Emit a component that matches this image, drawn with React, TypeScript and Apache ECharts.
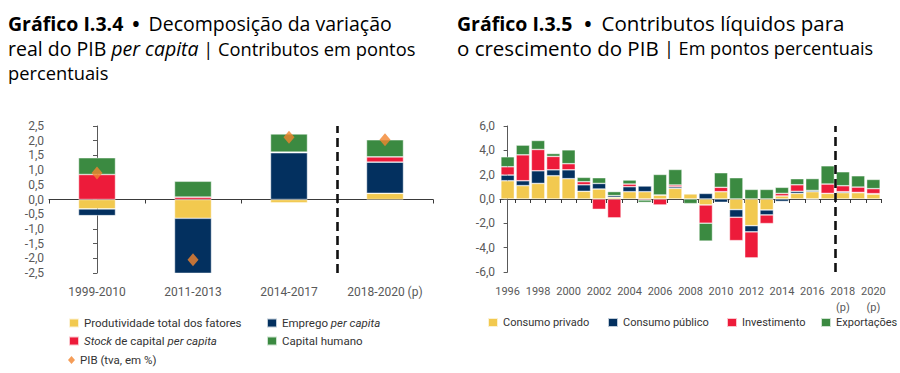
import React, { useEffect, useRef } from 'react';
import * as echarts from 'echarts';

// ---------- Gráfico I.3.4 ----------
const periods = ['1999-2010', '2011-2013', '2014-2017', '2018-2020 (p)'];
const ptf = [-0.32, -0.64, -0.11, 0.21];
const empregoPC = [-0.23, -1.93, 1.59, 1.06];
const stockCapitalPC = [0.85, 0.08, 0.02, 0.18];
const capitalHumano = [0.57, 0.54, 0.62, 0.58];
const pibTva = [0.9, -2.05, 2.12, 2.03];
const leftDividerAt = 2.5; // between 2014-2017 and 2018-2020 (p)

// ---------- Gráfico I.3.5 ----------
const years = ['1996', '1997', '1998', '1999', '2000', '2001', '2002', '2003', '2004', '2005', '2006', '2007', '2008', '2009', '2010', '2011', '2012', '2013', '2014', '2015', '2016', '2017', '2018', '2019', '2020'];
const projectedYears = ['2018', '2019', '2020'];
const consumoPrivado = [1.5, 1.1, 1.28, 1.91, 1.67, 0.63, 0.82, 0.14, 0.6, 0.6, 0.33, 0.87, 0.42, -0.49, 0.6, -0.87, -2.19, -0.9, 0.25, 0.46, 0.6, 0.46, 0.52, 0.52, 0.41];
const consumoPublico = [0.47, 0.4, 1.04, 0.49, 0.73, 0.54, 0.46, 0.14, 0.41, 0.47, 0, 0.13, 0.04, 0.46, -0.27, -0.63, -0.51, -0.41, -0.2, 0.17, 0.1, 0, 0.08, 0.02, 0.03];
const investimento = [0.68, 2.13, 1.75, 1.1, 0.5, 0.25, -0.85, -1.55, 0.22, -0.08, -0.49, 0.15, 0, -1.5, 0.36, -1.92, -2.14, -0.71, 0.21, 0.54, -0.05, 0.77, 0.49, 0.44, 0.41];
const exportacoes = [0.82, 0.8, 0.74, 0.24, 1.14, 0.36, 0.47, 0.33, 0.33, -0.2, 1.69, 1.28, -0.38, -1.47, 1.2, 1.75, 0.79, 0.79, 0.5, 0.5, 0.98, 1.5, 1.15, 0.93, 0.76];
const rightDividerAt = 21.5; // between 2017 and 2018

const YELLOW = '#f2c94f';
const NAVY = '#03305f';
const RED = '#ed1b3a';
const GREEN = '#3b8a41';
const ORANGE = '#f2842e';
const AXIS = '#595959';
const TITLE = '#1d3b59';
const NARROW = "Roboto, 'Liberation Sans', sans-serif";
const OPEN = "'Open Sans', 'Noto Sans', sans-serif";

const fmt = (v: number) => v.toFixed(1).replace('.', ',');

const barStyle = (color: string) => ({
  color,
  borderColor: 'rgba(255,255,255,0.75)',
  borderWidth: 0.6,
});

const legendBase = (name: string, left: number, top: number, fs = 11.5, icon = 'rect', w = 10, h = 9) => ({
  data: [name],
  left,
  top,
  icon,
  itemWidth: w,
  itemHeight: h,
  itemGap: 0,
  padding: 0,
  selectedMode: false,
  textStyle: {
    color: '#333',
    fontSize: fs,
    fontFamily: NARROW,
    rich: {
      i: { fontStyle: 'italic', fontSize: fs, fontFamily: NARROW, color: '#333' },
      n: { fontSize: fs, fontFamily: NARROW, color: '#333' },
    },
  },
});

const titleRich = {
  b: { fontFamily: OPEN, fontSize: 19.5, fontWeight: 'bold', color: TITLE },
  d: { fontFamily: OPEN, fontSize: 19.5, fontWeight: 'bold', color: TITLE, padding: [0, 9, 0, 9] },
  d2: { fontFamily: OPEN, fontSize: 19.5, fontWeight: 'bold', color: TITLE, padding: [0, 10, 0, 12] },
  r: { fontFamily: OPEN, fontSize: 19.5, color: TITLE },
  r2: { fontFamily: OPEN, fontSize: 20.5, color: TITLE },
  ri: { fontFamily: OPEN, fontSize: 19.5, fontStyle: 'italic', color: TITLE },
  s: { fontFamily: OPEN, fontSize: 18.3, color: TITLE },
  s2: { fontFamily: OPEN, fontSize: 18.1, color: TITLE },
};

export default function App() {
  const ref = useRef<HTMLDivElement>(null);
  useEffect(() => {
    document.body.style.margin = '0';
    const chart = echarts.init(ref.current!, null, { renderer: 'svg' });

    const option: any = {
      animation: false,
      backgroundColor: '#ffffff',
      graphic: [
        { type: 'text', x: 8, y: 23, style: { text: '{b|Gráfico I.3.4}{d|•}{r|Decomposição da variação}', rich: titleRich, verticalAlign: 'middle' } },
        { type: 'text', x: 8, y: 48, style: { text: '{r|real do PIB }{ri|per capita}{s| | Contributos em pontos}', rich: titleRich, verticalAlign: 'middle' } },
        { type: 'text', x: 8, y: 72, style: { text: '{s|percentuais}', rich: titleRich, verticalAlign: 'middle' } },
        { type: 'text', x: 457, y: 23, style: { text: '{b|Gráfico I.3.5}{d2|•}{r2|Contributos líquidos para}', rich: titleRich, verticalAlign: 'middle' } },
        { type: 'text', x: 457, y: 48, style: { text: '{r2|o crescimento do PIB }{s2|| Em pontos percentuais}', rich: titleRich, verticalAlign: 'middle' } },
      ],
      legend: [
        legendBase('Produtividade total dos fatores', 68, 317),
        { ...legendBase('Emprego per capita', 266, 317), formatter: () => '{n|Emprego }{i|per capita}' },
        { ...legendBase('Stock de capital per capita', 68, 335), formatter: () => '{i|Stock}{n| de capital }{i|per capita}' },
        legendBase('Capital humano', 266, 335),
        legendBase('PIB (tva, em %)', 68, 354, 11.5, 'diamond', 7, 8),
        legendBase('Consumo privado', 487, 317, 11),
        legendBase('Consumo público', 607, 317, 11),
        legendBase('Investimento', 726, 317, 11),
        legendBase('Exportações', 820, 317, 11),
      ],
      grid: [
        { left: 49, top: 126, width: 384, height: 147 },
        { left: 500, top: 126, width: 381, height: 146 },
      ],
      xAxis: [
        {
          gridIndex: 0, type: 'category', data: periods, position: 'bottom',
          axisLine: { show: false, onZero: false }, axisTick: { show: false },
          axisLabel: { color: AXIS, fontSize: 12, fontFamily: NARROW, margin: 13, interval: 0 },
        },
        {
          gridIndex: 0, type: 'category', data: periods, position: 'top',
          axisLine: { show: true, onZero: true, lineStyle: { color: '#3a3a3a', width: 1 } },
          axisTick: { show: true, inside: true, length: 4, interval: 0, lineStyle: { color: '#3a3a3a' } },
          axisLabel: { show: false },
        },
        {
          gridIndex: 1, type: 'category', data: years, position: 'bottom',
          axisLine: { show: false, onZero: false }, axisTick: { show: false },
          axisLabel: {
            color: AXIS, fontSize: 11, fontFamily: NARROW, margin: 11, interval: 1, lineHeight: 16,
            formatter: (v: string) => (projectedYears.includes(v) ? v + '\n(p)' : v),
          },
        },
        {
          gridIndex: 1, type: 'category', data: years, position: 'top',
          axisLine: { show: true, onZero: true, lineStyle: { color: '#3a3a3a', width: 1 } },
          axisTick: { show: true, inside: true, length: 4, interval: 0, lineStyle: { color: '#3a3a3a' } },
          axisLabel: { show: false },
        },
        { gridIndex: 0, type: 'value', min: -0.5, max: periods.length - 0.5, show: false },
        { gridIndex: 1, type: 'value', min: -0.5, max: years.length - 0.5, show: false },
      ],
      yAxis: [
        {
          gridIndex: 0, type: 'value', min: -2.5, max: 2.5, interval: 0.5,
          axisLine: { show: true, lineStyle: { color: AXIS } },
          axisTick: { show: true, length: 4, lineStyle: { color: AXIS } },
          splitLine: { show: false },
          axisLabel: { color: AXIS, fontSize: 12, fontFamily: NARROW, margin: 5, formatter: fmt },
        },
        {
          gridIndex: 1, type: 'value', min: -6, max: 6, interval: 2,
          axisLine: { show: true, lineStyle: { color: AXIS } },
          axisTick: { show: true, length: 4, lineStyle: { color: AXIS } },
          splitLine: { show: false },
          axisLabel: { color: AXIS, fontSize: 12, fontFamily: NARROW, margin: 5, formatter: fmt },
        },
      ],
      series: [
        { type: 'bar', name: 'Produtividade total dos fatores', xAxisIndex: 0, yAxisIndex: 0, stack: 'L', barWidth: 37, data: ptf, itemStyle: barStyle(YELLOW) },
        { type: 'bar', name: 'Emprego per capita', xAxisIndex: 0, yAxisIndex: 0, stack: 'L', barWidth: 37, data: empregoPC, itemStyle: barStyle(NAVY) },
        { type: 'bar', name: 'Stock de capital per capita', xAxisIndex: 0, yAxisIndex: 0, stack: 'L', barWidth: 37, data: stockCapitalPC, itemStyle: barStyle(RED) },
        { type: 'bar', name: 'Capital humano', xAxisIndex: 0, yAxisIndex: 0, stack: 'L', barWidth: 37, data: capitalHumano, itemStyle: barStyle(GREEN) },
        { type: 'scatter', name: 'PIB (tva, em %)', xAxisIndex: 0, yAxisIndex: 0, symbol: 'diamond', symbolSize: [11, 13], data: pibTva, itemStyle: { color: ORANGE }, z: 5 },
        {
          type: 'line', name: 'divL', xAxisIndex: 4, yAxisIndex: 0, data: [], silent: true,
          markLine: { symbol: 'none', silent: true, label: { show: false }, lineStyle: { color: '#111', width: 2.6, type: [9, 5] }, data: [{ xAxis: leftDividerAt }] },
        },
        { type: 'bar', name: 'Consumo privado', xAxisIndex: 2, yAxisIndex: 1, stack: 'R', barWidth: 13.5, data: consumoPrivado, itemStyle: barStyle(YELLOW) },
        { type: 'bar', name: 'Consumo público', xAxisIndex: 2, yAxisIndex: 1, stack: 'R', barWidth: 13.5, data: consumoPublico, itemStyle: barStyle(NAVY) },
        { type: 'bar', name: 'Investimento', xAxisIndex: 2, yAxisIndex: 1, stack: 'R', barWidth: 13.5, data: investimento, itemStyle: barStyle(RED) },
        { type: 'bar', name: 'Exportações', xAxisIndex: 2, yAxisIndex: 1, stack: 'R', barWidth: 13.5, data: exportacoes, itemStyle: barStyle(GREEN) },
        {
          type: 'line', name: 'divR', xAxisIndex: 5, yAxisIndex: 1, data: [], silent: true,
          markLine: { symbol: 'none', silent: true, label: { show: false }, lineStyle: { color: '#111', width: 2.6, type: [9, 5] }, data: [{ xAxis: rightDividerAt }] },
        },
      ],
    };
    chart.setOption(option);
    return () => chart.dispose();
  }, []);
  return <div ref={ref} style={{ width: 900, height: 373 }} />;
}
